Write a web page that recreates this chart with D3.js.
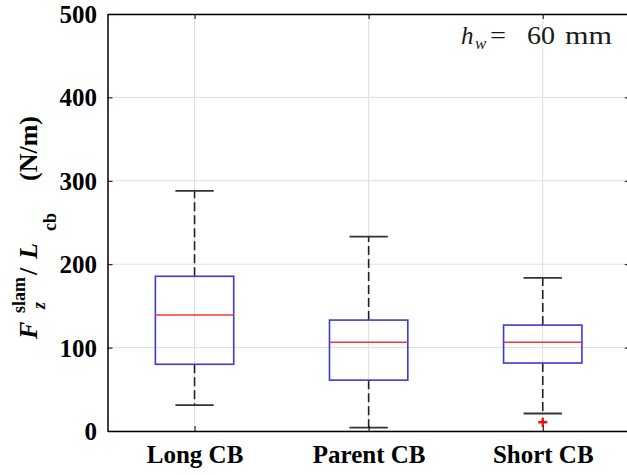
<!DOCTYPE html>
<html>
<head>
<meta charset="utf-8">
<script src="https://cdn.jsdelivr.net/npm/d3@7"></script>
<style>
  html, body { margin: 0; padding: 0; background: #fff; }
  svg { display: block; }
</style>
</head>
<body>
<svg id="chart" width="627" height="475"></svg>
<script>
// Box-plot summary of slamming force per unit length for three conning bridge variants
const categories   = ["Long CB", "Parent CB", "Short CB"];
const whiskerLow   = [31, 4, 21];
const quartile1    = [80, 61, 81.5];
const medians      = [139, 106.5, 106.5];
const quartile3    = [185.5, 133, 127];
const whiskerHigh  = [288, 233, 183.5];
const outlierCategory = ["Short CB"];
const outlierValue    = [10.5];
const yTicks = [0, 100, 200, 300, 400, 500];

const svg = d3.select("#chart");
const plotLeft = 107.5, plotRight = 629.8, plotTop = 14, plotBottom = 431;

const x = d3.scaleLinear().domain([0.5, categories.length + 0.5]).range([plotLeft, plotRight]);
const xc = c => x(categories.indexOf(c) + 1);
const y = d3.scaleLinear().domain([0, 500]).range([plotBottom, plotTop]);

const serif = "'Liberation Serif', 'Times New Roman', serif";
const gridColor = "#dedede";
const boxW = 0.45, capW = 0.22;

// grid
const grid = svg.append("g");
grid.selectAll("line.h").data(yTicks).join("line")
  .attr("x1", plotLeft).attr("x2", plotRight)
  .attr("y1", d => y(d)).attr("y2", d => y(d))
  .attr("stroke", gridColor).attr("stroke-width", 1);
grid.selectAll("line.v").data(categories).join("line")
  .attr("x1", d => xc(d)).attr("x2", d => xc(d))
  .attr("y1", plotTop).attr("y2", plotBottom)
  .attr("stroke", gridColor).attr("stroke-width", 1);

// boxes
const idx = d3.range(categories.length);
const g = svg.append("g");
// whiskers (dashed)
g.selectAll("line.wu").data(idx).join("line")
  .attr("x1", i => x(i + 1)).attr("x2", i => x(i + 1))
  .attr("y1", i => y(quartile3[i])).attr("y2", i => y(whiskerHigh[i]))
  .attr("stroke", "#222").attr("stroke-width", 1.6).attr("stroke-dasharray", "9,4");
g.selectAll("line.wl").data(idx).join("line")
  .attr("x1", i => x(i + 1)).attr("x2", i => x(i + 1))
  .attr("y1", i => y(quartile1[i])).attr("y2", i => y(whiskerLow[i]))
  .attr("stroke", "#222").attr("stroke-width", 1.6).attr("stroke-dasharray", "9,4");
// caps
[whiskerHigh, whiskerLow].forEach(arr => {
  g.append("g").selectAll("line").data(idx).join("line")
    .attr("x1", i => x(i + 1 - capW / 2)).attr("x2", i => x(i + 1 + capW / 2))
    .attr("y1", i => y(arr[i])).attr("y2", i => y(arr[i]))
    .attr("stroke", "#333").attr("stroke-width", 1.8);
});
// box rectangles
g.append("g").selectAll("rect").data(idx).join("rect")
  .attr("x", i => x(i + 1 - boxW / 2))
  .attr("width", i => x(i + 1 + boxW / 2) - x(i + 1 - boxW / 2))
  .attr("y", i => y(quartile3[i]))
  .attr("height", i => y(quartile1[i]) - y(quartile3[i]))
  .attr("fill", "none").attr("stroke", "#3a3ad6").attr("stroke-width", 1.6);
// medians
g.append("g").selectAll("line").data(idx).join("line")
  .attr("x1", i => x(i + 1 - boxW / 2)).attr("x2", i => x(i + 1 + boxW / 2))
  .attr("y1", i => y(medians[i])).attr("y2", i => y(medians[i]))
  .attr("stroke", "#f03a3a").attr("stroke-width", 1.5);
// outliers
outlierValue.forEach((v, k) => {
  const cx = xc(outlierCategory[k]), cy = y(v), s = 4.5;
  g.append("path")
    .attr("d", `M${cx - s},${cy}H${cx + s}M${cx},${cy - s}V${cy + s}`)
    .attr("stroke", "#ee1111").attr("stroke-width", 2.4);
});

// axes
const yAxis = d3.axisLeft(y).tickValues(yTicks).tickSizeInner(-5).tickSizeOuter(0).tickPadding(10.5);
const yAxisR = d3.axisRight(y).tickValues(yTicks).tickSizeInner(-5).tickSizeOuter(0).tickFormat("");
const xAxis = d3.axisBottom(x).tickValues(idx.map(i => i + 1))
  .tickFormat(d => categories[d - 1]).tickSizeInner(-5).tickSizeOuter(0).tickPadding(14);
const xAxisT = d3.axisTop(x).tickValues(idx.map(i => i + 1))
  .tickSizeInner(-5).tickSizeOuter(0).tickFormat("");

const ay = svg.append("g").attr("transform", `translate(${plotLeft},0)`).call(yAxis);
svg.append("g").attr("transform", `translate(${plotRight},0)`).call(yAxisR);
const ax = svg.append("g").attr("transform", `translate(0,${plotBottom})`).call(xAxis);
svg.append("g").attr("transform", `translate(0,${plotTop})`).call(xAxisT);

svg.selectAll(".domain").attr("stroke", "#000").attr("stroke-width", 1.5);
svg.selectAll(".tick line").attr("stroke", "#000").attr("stroke-width", 1);
ay.selectAll("text").attr("font-family", serif).attr("font-weight", "bold")
  .attr("font-size", 25).attr("fill", "#000").attr("dy", "0.34em");
ax.selectAll("text").attr("font-family", serif).attr("font-weight", "bold")
  .attr("font-size", 25).attr("fill", "#000").attr("dy", "0.71em");

// y-axis title: F_z^slam / L_cb  (N/m)
const yl = svg.append("g").attr("transform", "rotate(-90)")
  .attr("font-family", serif).attr("font-weight", "bold").attr("fill", "#000");
const piece = (txt, px, py, size, italic) => yl.append("text")
  .attr("x", -px).attr("y", py).attr("font-size", size)
  .attr("font-style", italic ? "italic" : "normal").text(txt);
piece("F", 339, 37, 26, true);
piece("slam", 313, 25, 18, false);
piece("z", 309, 45, 18, true);
piece("/", 275, 37, 26, false);
piece("L", 259, 37, 26, true);
piece("cb", 231, 56, 18, false);
piece("(N/m)", 181, 37, 26, false);

// annotation: h_w = 60 mm
const ann = svg.append("g").attr("font-family", serif).attr("fill", "#1a1a1a");
const annText = (txt, ax0, ay0, size, italic, len) => {
  const t = ann.append("text").attr("x", ax0).attr("y", ay0).attr("font-size", size)
    .attr("font-style", italic ? "italic" : "normal").text(txt);
  if (len) t.attr("textLength", len).attr("lengthAdjust", "spacingAndGlyphs");
  return t;
};
annText("h", 461, 44, 25, true);
annText("w", 475, 49, 17, true);
annText("=", 490, 44, 25, false, 16);
annText("60", 527, 44, 25, false, 28);
annText("mm", 565, 44, 25, false, 47);
</script>
</body>
</html>
